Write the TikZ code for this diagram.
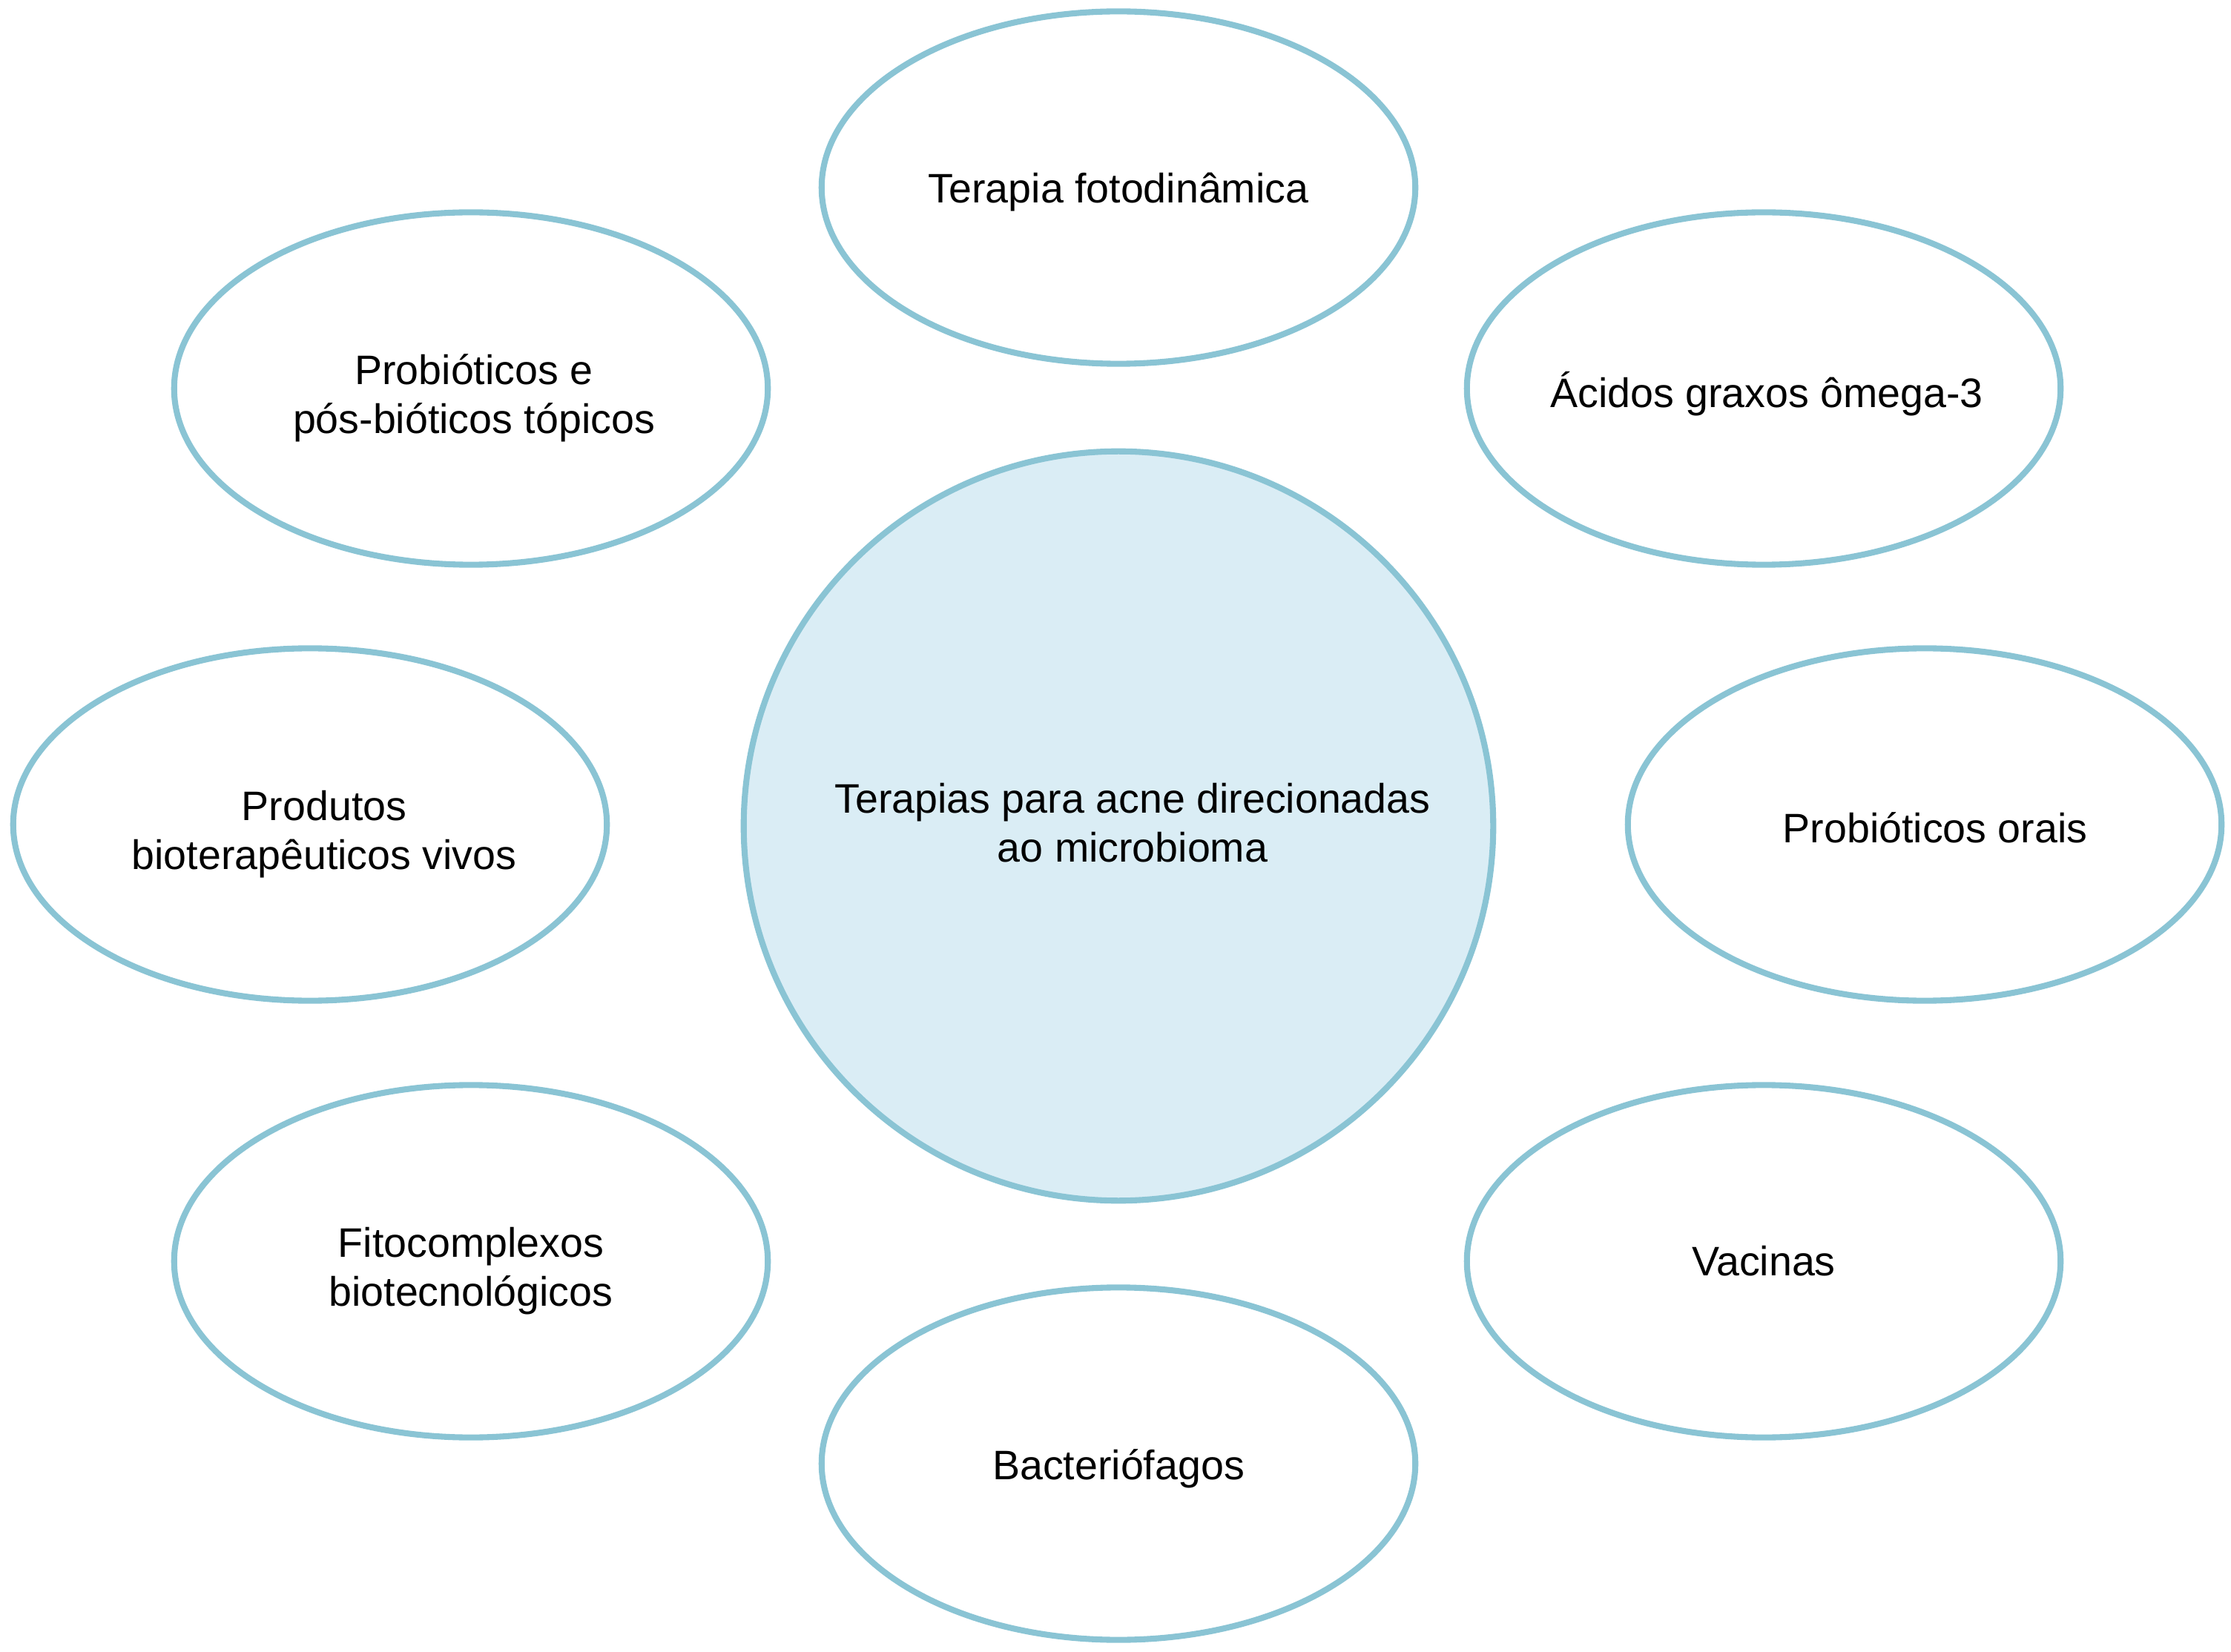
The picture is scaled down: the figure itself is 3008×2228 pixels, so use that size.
\documentclass[tikz,border=0pt]{standalone}
\usepackage{fontspec}
\setmainfont{Liberation Sans}
\usetikzlibrary{shapes.geometric}
\definecolor{rim}{RGB}{138,196,212}
\definecolor{hubfill}{RGB}{218,237,245}
\tikzset{
  oval/.style={ellipse, draw=rim, line width=2.3pt, fill=white,
    minimum width=8.0cm, minimum height=4.75cm, inner sep=0pt},
  hub/.style={circle, draw=rim, line width=2.3pt, fill=hubfill,
    minimum size=10.1cm, inner sep=0pt},
  lbl/.style={align=center, inner sep=0pt, font=\fontsize{15.8}{18.8}\selectfont}
}
\begin{document}
\begin{tikzpicture}[x=0.01cm,y=-0.01cm]
\useasboundingbox (0,0) rectangle (3008,2228);
\node[hub] (c) at (1508,1114) {};
\node[lbl, xshift=0.19cm, yshift=0.04cm] (c-t) at (c) {Terapias para acne direcionadas\\ao microbioma};
\node[oval] (t) at (1508,253) {};
\node[lbl, yshift=-0.06cm] (t-t) at (t) {Terapia fotodinâmica};
\node[oval] (pt) at (635,524) {};
\node[lbl, xshift=0.04cm, yshift=-0.13cm] (pt-t) at (pt) {Probióticos e\\pós-bióticos tópicos};
\node[oval] (ag) at (2378,524) {};
\node[lbl, xshift=0.04cm, yshift=-0.07cm] (ag-t) at (ag) {Ácidos graxos ômega-3};
\node[oval] (pb) at (418,1112) {};
\node[lbl, xshift=0.19cm, yshift=-0.13cm] (pb-t) at (pb) {Produtos\\bioterapêuticos vivos};
\node[oval] (po) at (2595,1112) {};
\node[lbl, xshift=0.14cm, yshift=-0.04cm] (po-t) at (po) {Probióticos orais};
\node[oval] (fi) at (635,1701) {};
\node[lbl, yshift=-0.13cm] (fi-t) at (fi) {Fitocomplexos\\biotecnológicos};
\node[oval] (va) at (2378,1701) {};
\node[lbl] (va-t) at (va) {Vacinas};
\node[oval] (ba) at (1508,1974) {};
\node[lbl, yshift=-0.07cm] (ba-t) at (ba) {Bacteriófagos};
\end{tikzpicture}
\end{document}
